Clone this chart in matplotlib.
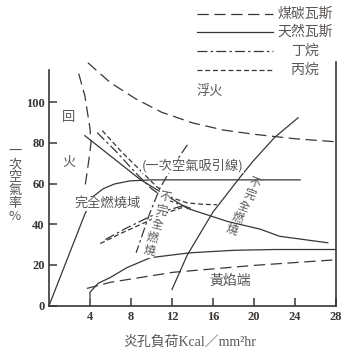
import matplotlib
matplotlib.use("Agg")
import matplotlib.pyplot as plt
from matplotlib.lines import Line2D

CJK = "Noto Sans CJK TC"
INK = "#3a3633"
TXT = "#5a5654"

# ---- data (x: 炎孔負荷, y: 一次空氣率 %) ----
coal_lift_x = [3.8, 6.0, 8.5, 11.0, 14.0, 17.0, 20.0, 24.0, 28.0]
coal_lift_y = [119.3, 109.5, 101.5, 95.0, 89.8, 86.3, 84.2, 82.0, 80.5]

coal_flash_x = [2.9, 3.5, 4.0, 4.1, 3.9, 3.5]
coal_flash_y = [114, 103, 87, 80, 72, 58]

coal_yellow_x = [3.7, 6.0, 12.1, 20.0, 27.8]
coal_yellow_y = [8.5, 11.5, 16.4, 19.8, 22.5]

nat_bound_x = [0, 3.5, 4.3, 5.3, 6.4, 7.9, 10.0, 24.5]
nat_bound_y = [0, 45, 53.6, 57.5, 59.8, 61.3, 61.8, 61.8]

nat_entrain_x = [3.5, 8.9, 13.5, 17.4, 20.6, 22.5, 27.2]
nat_entrain_y = [83.5, 62.0, 47.8, 41.4, 37.6, 34.1, 30.9]

nat_incomp_x = [12.0, 13.5, 16.0, 18.7, 20.0, 22.0, 24.3]
nat_incomp_y = [8.0, 25.0, 46.0, 63.5, 71.5, 82.6, 92.3]

nat_yellow_x = [4.0, 4.0, 4.8, 6.0, 7.6, 9.9, 13.8, 18.0, 22.0, 28.0]
nat_yellow_y = [4.2, 6.6, 11.0, 13.9, 18.7, 23.6, 26.0, 27.2, 27.6, 27.6]

but_entrain_x = [4.7, 6.5, 8.5, 10.0, 11.5, 14.0]
but_entrain_y = [85, 76, 65, 57.5, 52, 47.5]

pro_entrain_x = [5.2, 7.0, 9.0, 10.5, 12.0, 13.5, 15.0, 16.4]
pro_entrain_y = [86, 76, 66, 58.5, 53, 50.5, 49.8, 49.6]

but_low_x = [5.5, 7.5, 9.9, 11.5, 13.0]
but_low_y = [32.5, 38.0, 43.9, 46.8, 49.0]

pro_low_x = [5.0, 7.0, 9.6, 10.8, 13.0]
pro_low_y = [30.5, 35.5, 41.4, 44.5, 48.2]

but_incomp_x = [13.5, 12.0, 10.8, 9.8, 8.5]
but_incomp_y = [79, 68, 57.5, 45, 26]

x_ticks = [4, 8, 12, 16, 20, 24, 28]
y_ticks = [0, 20, 40, 60, 80, 100]

legend_names = ["煤碳瓦斯", "天然瓦斯", "丁烷", "丙烷"]

# ---- styles ----
coal_ls = (0, (9, 4.5))
nat_ls = "-"
but_ls = (0, (8, 2.5, 2, 2.5))
pro_ls = (0, (4, 2.2))

fig = plt.figure(figsize=(3.5, 3.52), dpi=100)
ax = fig.add_axes([49 / 350, 1 - 305.7 / 352, 287 / 350, 243.3 / 352])

lw = 0.9
ax.plot(coal_lift_x, coal_lift_y, color=INK, lw=lw, ls=coal_ls)
ax.plot(coal_flash_x, coal_flash_y, color=INK, lw=lw, ls=coal_ls)
ax.plot(coal_yellow_x, coal_yellow_y, color=INK, lw=lw, ls=coal_ls)
ax.plot(nat_bound_x, nat_bound_y, color=INK, lw=lw, ls=nat_ls)
ax.plot(nat_entrain_x, nat_entrain_y, color=INK, lw=lw, ls=nat_ls)
ax.plot(nat_incomp_x, nat_incomp_y, color=INK, lw=lw, ls=nat_ls)
ax.plot(nat_yellow_x, nat_yellow_y, color=INK, lw=lw, ls=nat_ls)
ax.plot(but_entrain_x, but_entrain_y, color=INK, lw=lw, ls=but_ls)
ax.plot(pro_entrain_x, pro_entrain_y, color=INK, lw=lw, ls=pro_ls)
ax.plot(but_low_x, but_low_y, color=INK, lw=lw, ls=but_ls)
ax.plot(pro_low_x, pro_low_y, color=INK, lw=lw, ls=pro_ls)
ax.plot(but_incomp_x, but_incomp_y, color=INK, lw=lw, ls=but_ls)

ax.set_xlim(0, 28)
ax.set_ylim(0, 119.5)
ax.spines["top"].set_visible(False)
ax.spines["left"].set_bounds(0, 116)
for s in ["left", "bottom", "right"]:
    ax.spines[s].set_color(INK)
    ax.spines[s].set_linewidth(1.2)

ax.set_xticks(x_ticks)
ax.set_yticks(y_ticks)
ax.tick_params(direction="in", length=6, width=1.1, color=INK, labelcolor=INK,
               labelsize=9, pad=4)
ax.tick_params(axis="y", pad=3)
for lab in ax.get_xticklabels() + ax.get_yticklabels():
    lab.set_fontfamily("Liberation Serif")
    lab.set_fontweight("bold")

# axis titles
fig.text(190 / 350, 1 - 342 / 352, "炎孔負荷Kcal／mm²hr", ha="center", va="center",
         fontsize=10, color=TXT, family=["Liberation Serif", CJK])
fig.text(15 / 350, 1 - 184 / 352, "\n".join("一次空氣率%"), ha="center", va="center",
         fontsize=9.5, color=TXT, family=[CJK], linespacing=1.0)

# in-plot labels
ax.text(1.95, 92.3, "回", fontsize=9.5, color=TXT, family=CJK, ha="center", va="center")
ax.text(1.95, 70.5, "火", fontsize=9.5, color=TXT, family=CJK, ha="center", va="center")
ax.text(14.0, 69.0, "(一次空氣吸引線)", fontsize=9.5, color=TXT, family=CJK,
        ha="center", va="center",
        bbox=dict(facecolor="white", edgecolor="none", pad=0.5))
ax.text(5.75, 50.2, "完全燃燒域", fontsize=9.5, color=TXT, family=CJK,
        ha="center", va="center",
        bbox=dict(facecolor="white", edgecolor="none", pad=0.5))
ax.text(17.7, 12.4, "黃焰端", fontsize=10, color=TXT, family=CJK, ha="center", va="center")
ax.text(14.4, 105.3, "浮火", fontsize=9.5, color=TXT, family=CJK, ha="left", va="center")

# slanted vertical labels (characters stacked along the lines)
word = "不完全燃燒"
for i, ch in enumerate(word):
    ax.text(11.3 - 0.39 * i, 53.6 - 6.7 * i, ch, fontsize=8.5, color=TXT, family=CJK,
            ha="center", va="center", rotation=-12,
            bbox=dict(facecolor="white", edgecolor="none", pad=0.1))
    ax.text(20.1 - 0.57 * i, 60.3 - 5.7 * i, ch, fontsize=8.5, color=TXT, family=CJK,
            ha="center", va="center", rotation=-20)

# legend drawn in figure coordinates
styles = [coal_ls, nat_ls, but_ls, pro_ls]
rows = [14, 32, 51, 70]
for name, ls, r in zip(legend_names, styles, rows):
    yy = 1 - r / 352
    fig.add_artist(Line2D([197 / 350, 273 / 350], [yy, yy], color=INK, lw=lw, ls=ls))
    fig.text(305 / 350, yy, name, ha="center", va="center", fontsize=10,
             color=TXT, family=CJK)

fig.savefig("out.png", dpi=100, facecolor="white")
